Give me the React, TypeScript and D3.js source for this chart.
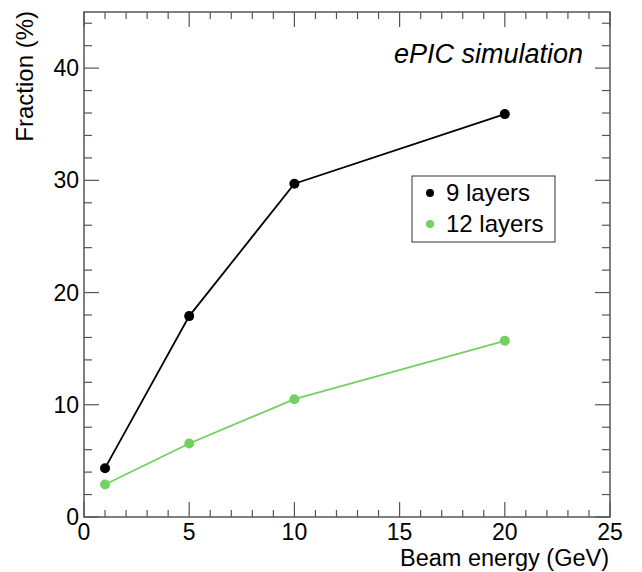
import * as d3 from "d3";
import React from "react";

const energies = [1, 5, 10, 20];
const nineLayers = [4.35, 17.9, 29.7, 35.9];
const twelveLayers = [2.9, 6.55, 10.5, 15.7];
const xTicks = [0, 5, 10, 15, 20, 25];
const yTicks = [0, 10, 20, 30, 40];
const seriesNames = ["9 layers", "12 layers"];
const seriesColors = ["#000000", "#74d062"];

const W = 642;
const H = 572;
const margin = { left: 84, right: 32, top: 12, bottom: 55 };
const font = "'Liberation Sans', Arial, Helvetica, sans-serif";
const axisColor = "#555";

const App = () => {
  const ref = React.useRef<SVGSVGElement>(null);

  React.useEffect(() => {
    const svg = d3.select(ref.current);
    svg.selectAll("*").remove();

    const x = d3.scaleLinear().domain([0, 25]).range([margin.left, W - margin.right]);
    const y = d3.scaleLinear().domain([0, 45]).range([H - margin.bottom, margin.top]);
    const x0 = x.range()[0], x1 = x.range()[1];
    const y0 = y.range()[0], y1 = y.range()[1];

    const g = svg.append("g");

    // frame
    g.append("rect")
      .attr("x", x0).attr("y", y1)
      .attr("width", x1 - x0).attr("height", y0 - y1)
      .attr("fill", "none").attr("stroke", axisColor).attr("stroke-width", 1.5);

    // x ticks (bottom and top), minor every 1
    d3.range(0, 26, 1).forEach(v => {
      const major = v % 5 === 0;
      const len = major ? 15 : 7;
      g.append("line").attr("x1", x(v)).attr("x2", x(v)).attr("y1", y0).attr("y2", y0 - len)
        .attr("stroke", axisColor).attr("stroke-width", 1.2);
      g.append("line").attr("x1", x(v)).attr("x2", x(v)).attr("y1", y1).attr("y2", y1 + len)
        .attr("stroke", axisColor).attr("stroke-width", 1.2);
    });

    // y ticks (left and right), minor every 2
    d3.range(0, 46, 2).forEach(v => {
      const major = v % 10 === 0;
      const len = major ? 15 : 8;
      g.append("line").attr("x1", x0).attr("x2", x0 + len).attr("y1", y(v)).attr("y2", y(v))
        .attr("stroke", axisColor).attr("stroke-width", 1.2);
      g.append("line").attr("x1", x1).attr("x2", x1 - len).attr("y1", y(v)).attr("y2", y(v))
        .attr("stroke", axisColor).attr("stroke-width", 1.2);
    });

    // tick labels
    g.selectAll(".xt").data(xTicks).enter().append("text")
      .attr("x", d => x(d)).attr("y", y0 + 23)
      .attr("text-anchor", "middle")
      .style("font-family", font).style("font-size", "23px")
      .text(d => d);
    g.selectAll(".yt").data(yTicks).enter().append("text")
      .attr("x", x0 - 5).attr("y", d => y(d) + 8)
      .attr("text-anchor", "end")
      .style("font-family", font).style("font-size", "23px")
      .text(d => d);

    // axis titles
    g.append("text")
      .attr("x", x1 - 1).attr("y", y0 + 49)
      .attr("text-anchor", "end")
      .style("font-family", font).style("font-size", "23.5px")
      .text("Beam energy (GeV)");
    g.append("text")
      .attr("transform", "translate(33," + (y1 - 1) + ") rotate(-90)")
      .attr("text-anchor", "end")
      .style("font-family", font).style("font-size", "24px")
      .text("Fraction (%)");

    // series
    const all = [nineLayers, twelveLayers];
    const line = d3.line<number>().x((d, i) => x(energies[i])).y(d => y(d));
    all.forEach((vals, k) => {
      g.append("path").datum(vals).attr("d", line)
        .attr("fill", "none").attr("stroke", seriesColors[k]).attr("stroke-width", 1.8);
      g.selectAll(".pt" + k).data(vals).enter().append("circle")
        .attr("cx", (d, i) => x(energies[i])).attr("cy", d => y(d))
        .attr("r", 5).attr("fill", seriesColors[k]);
    });

    // annotation
    g.append("text")
      .attr("x", 583).attr("y", 63)
      .attr("text-anchor", "end")
      .style("font-family", font).style("font-size", "27px").style("font-style", "italic")
      .text("ePIC simulation");

    // legend
    const lg = g.append("g");
    lg.append("rect").attr("x", 412).attr("y", 176).attr("width", 143).attr("height", 66)
      .attr("fill", "white").attr("stroke", "#333").attr("stroke-width", 1);
    seriesNames.forEach((name, k) => {
      const cy = 193 + k * 31;
      lg.append("circle").attr("cx", 430).attr("cy", cy).attr("r", 4).attr("fill", seriesColors[k]);
      lg.append("text").attr("x", 446).attr("y", cy + 8)
        .style("font-family", font).style("font-size", "24px")
        .text(name);
    });
  }, []);

  return (
    <svg ref={ref} width={W} height={H}
      style={{ position: "absolute", left: 0, top: 0, background: "white" }} />
  );
};

export default App;
